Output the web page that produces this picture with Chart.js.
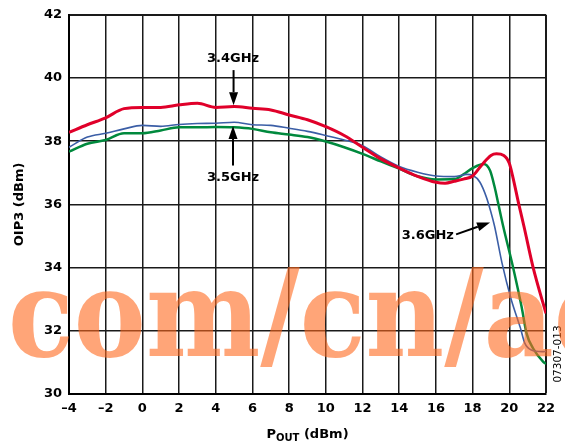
<!DOCTYPE html>
<html>
<head>
<meta charset="utf-8">
<script src="https://cdn.jsdelivr.net/npm/chart.js@4.4.1/dist/chart.umd.min.js"></script>
<style>
  html, body { margin: 0; padding: 0; background: #fff; }
  canvas { display: block; }
</style>
</head>
<body>
<canvas id="oip3" width="565" height="444"></canvas>
<script>
// OIP3 vs POUT, three frequencies
var ghz34X = [-4, -3, -2, -1, 0, 1, 2, 3, 4, 5, 6, 7, 8, 9, 10, 11, 12, 13, 14, 15, 16, 16.5, 17, 17.5, 18, 18.5, 19, 19.3, 19.7, 20, 20.2, 20.5, 20.8, 21.3, 22];
var ghz34Y = [38.28, 38.52, 38.74, 39.03, 39.07, 39.07, 39.15, 39.2, 39.07, 39.1, 39.04, 38.99, 38.83, 38.68, 38.46, 38.18, 37.81, 37.44, 37.15, 36.89, 36.7, 36.67, 36.73, 36.8, 36.9, 37.25, 37.55, 37.6, 37.55, 37.3, 36.85, 36.05, 35.3, 34.0, 32.55];

var ghz35X = [-4, -3, -2, -1, 0, 1, 2, 3, 4, 5, 6, 7, 8, 9, 10, 11, 12, 13, 14, 15, 16, 17, 17.7, 18, 18.4, 18.75, 19, 19.2, 19.6, 20.1, 20.6, 20.85, 21.2, 21.8, 22];
var ghz35Y = [37.81, 38.13, 38.25, 38.39, 38.5, 38.47, 38.53, 38.56, 38.57, 38.6, 38.52, 38.5, 38.41, 38.31, 38.18, 38.04, 37.86, 37.5, 37.2, 37.02, 36.9, 36.88, 36.95, 36.92, 36.7, 36.23, 35.75, 35.3, 34.15, 33.0, 32.1, 31.6, 31.39, 31.34, 31.35];

var ghz36X = [-4, -3, -2, -1, 0, 1, 2, 3, 4, 5, 6, 7, 8, 9, 10, 11, 12, 13, 14, 15, 16, 17, 17.5, 18, 18.6, 18.95, 19.2, 19.4, 19.67, 20.2, 20.67, 20.94, 21.3, 21.85, 22];
var ghz36Y = [37.67, 37.92, 38.04, 38.25, 38.25, 38.34, 38.44, 38.44, 38.45, 38.44, 38.39, 38.28, 38.21, 38.13, 37.99, 37.81, 37.6, 37.36, 37.13, 36.89, 36.79, 36.8, 36.95, 37.15, 37.28, 37.07, 36.55, 36.02, 35.3, 34.02, 32.76, 31.92, 31.44, 31.02, 30.95];

var xMin = -4, xMax = 22, xStep = 2;
var yMin = 30, yMax = 42, yStep = 2;

// callouts: [text, labelX, labelY, arrowFromX, arrowFromY, arrowToX, arrowToY] in data units
var callouts = [
  ['3.4GHz', 4.94, 40.61, 4.97, 40.25, 4.97, 39.14],
  ['3.5GHz', 4.94, 36.85, 4.94, 37.23, 4.94, 38.48],
  ['3.6GHz', 15.56, 35.02, 17.1, 35.05, 18.95, 35.43]
];

var FONT = '"DejaVu Sans", "Liberation Sans", Arial, sans-serif';

function pts(xs, ys) {
  return xs.map(function (x, i) { return { x: x, y: ys[i] }; });
}

function arrow(ctx, x1, y1, x2, y2) {
  var a = Math.atan2(y2 - y1, x2 - x1);
  var head = 13, half = 4.5;
  var bx = x2 - head * Math.cos(a), by = y2 - head * Math.sin(a);
  ctx.beginPath();
  ctx.moveTo(x1, y1);
  ctx.lineTo(bx, by);
  ctx.lineWidth = 2;
  ctx.strokeStyle = '#000';
  ctx.stroke();
  ctx.beginPath();
  ctx.moveTo(x2, y2);
  ctx.lineTo(bx + half * Math.sin(a), by - half * Math.cos(a));
  ctx.lineTo(bx - half * Math.sin(a), by + half * Math.cos(a));
  ctx.closePath();
  ctx.fillStyle = '#000';
  ctx.fill();
}

var extras = {
  id: 'extras',
  afterDatasetsDraw: function (chart) {
    var ctx = chart.ctx, sx = chart.scales.x, sy = chart.scales.y, ca = chart.chartArea;
    ctx.save();
    // callouts
    callouts.forEach(function (c) {
      ctx.font = 'bold 13px ' + FONT;
      ctx.textAlign = 'center';
      ctx.textBaseline = 'middle';
      ctx.fillStyle = '#000';
      ctx.fillText(c[0], sx.getPixelForValue(c[1]), sy.getPixelForValue(c[2]));
      arrow(ctx, sx.getPixelForValue(c[3]), sy.getPixelForValue(c[4]),
                 sx.getPixelForValue(c[5]), sy.getPixelForValue(c[6]));
    });

    // x axis title with subscript
    var big = 'bold 13px ' + FONT, small = 'bold 10px ' + FONT;
    ctx.font = big;
    var wP = ctx.measureText('P').width, wRest = ctx.measureText(' (dBm)').width;
    ctx.font = small;
    var wSub = ctx.measureText('OUT').width;
    var total = wP + wSub + wRest;
    var x0 = (ca.left + ca.right) / 2 - total / 2;
    var base = 438;
    ctx.textAlign = 'left';
    ctx.textBaseline = 'alphabetic';
    ctx.font = big;
    ctx.fillText('P', x0, base);
    ctx.font = small;
    ctx.fillText('OUT', x0 + wP, base + 3);
    ctx.font = big;
    ctx.fillText(' (dBm)', x0 + wP + wSub, base);

    // figure code
    ctx.save();
    ctx.translate(558, 354);
    ctx.rotate(-Math.PI / 2);
    ctx.font = '10.5px ' + FONT;
    ctx.textAlign = 'center';
    ctx.textBaseline = 'middle';
    ctx.fillText('07307-013', 0, 0);
    ctx.restore();

    // watermark
    ctx.save();
    ctx.translate(8, 356);
    ctx.scale(0.886, 1);
    ctx.font = 'bold 122px "DejaVu Serif", serif';
    ctx.fillStyle = 'rgba(255, 105, 30, 0.6)';
    ctx.textAlign = 'left';
    ctx.textBaseline = 'alphabetic';
    ctx.fillText('com/cn/ad', 0, 0);
    ctx.restore();
    ctx.restore();
  }
};

function gridWidth(c) {
  return (c.tick && (c.tick.value === xMax || c.tick.value === yMax)) ? 2 : 1.5;
}

new Chart(document.getElementById('oip3'), {
  type: 'line',
  data: {
    datasets: [
      { label: '3.4GHz', data: pts(ghz34X, ghz34Y), borderColor: '#e0002a', borderWidth: 3 },
      { label: '3.5GHz', data: pts(ghz35X, ghz35Y), borderColor: '#3b5ea6', borderWidth: 1.6 },
      { label: '3.6GHz', data: pts(ghz36X, ghz36Y), borderColor: '#00893d', borderWidth: 2.5 }
    ]
  },
  options: {
    responsive: false,
    animation: false,
    events: [],
    layout: { padding: { left: 0, top: 14, right: 19, bottom: 0 } },
    elements: {
      point: { radius: 0 },
      line: { cubicInterpolationMode: 'monotone', fill: false }
    },
    plugins: { legend: { display: false }, tooltip: { enabled: false } },
    scales: {
      x: {
        type: 'linear', min: xMin, max: xMax,
        afterFit: function (s) { s.height = 50; },
        ticks: {
          stepSize: xStep, padding: 7, color: '#000',
          font: { family: FONT, size: 13, weight: 'bold' },
          callback: function (v) { return v < 0 ? '\u2013' + Math.abs(v) : String(v); }
        },
        grid: { color: '#1a1a1a', lineWidth: gridWidth, drawTicks: false },
        border: { color: '#000', width: 2 }
      },
      y: {
        type: 'linear', min: yMin, max: yMax,
        afterFit: function (s) { s.width = 69; },
        ticks: {
          stepSize: yStep, padding: 7, color: '#000',
          font: { family: FONT, size: 13, weight: 'bold' }
        },
        grid: { color: '#1a1a1a', lineWidth: gridWidth, drawTicks: false },
        border: { color: '#000', width: 2 },
        title: {
          display: true, text: 'OIP3 (dBm)', color: '#000',
          font: { family: FONT, size: 13, weight: 'bold' },
          padding: { top: 12, bottom: 0 }
        }
      }
    }
  },
  plugins: [extras]
});
</script>
</body>
</html>
